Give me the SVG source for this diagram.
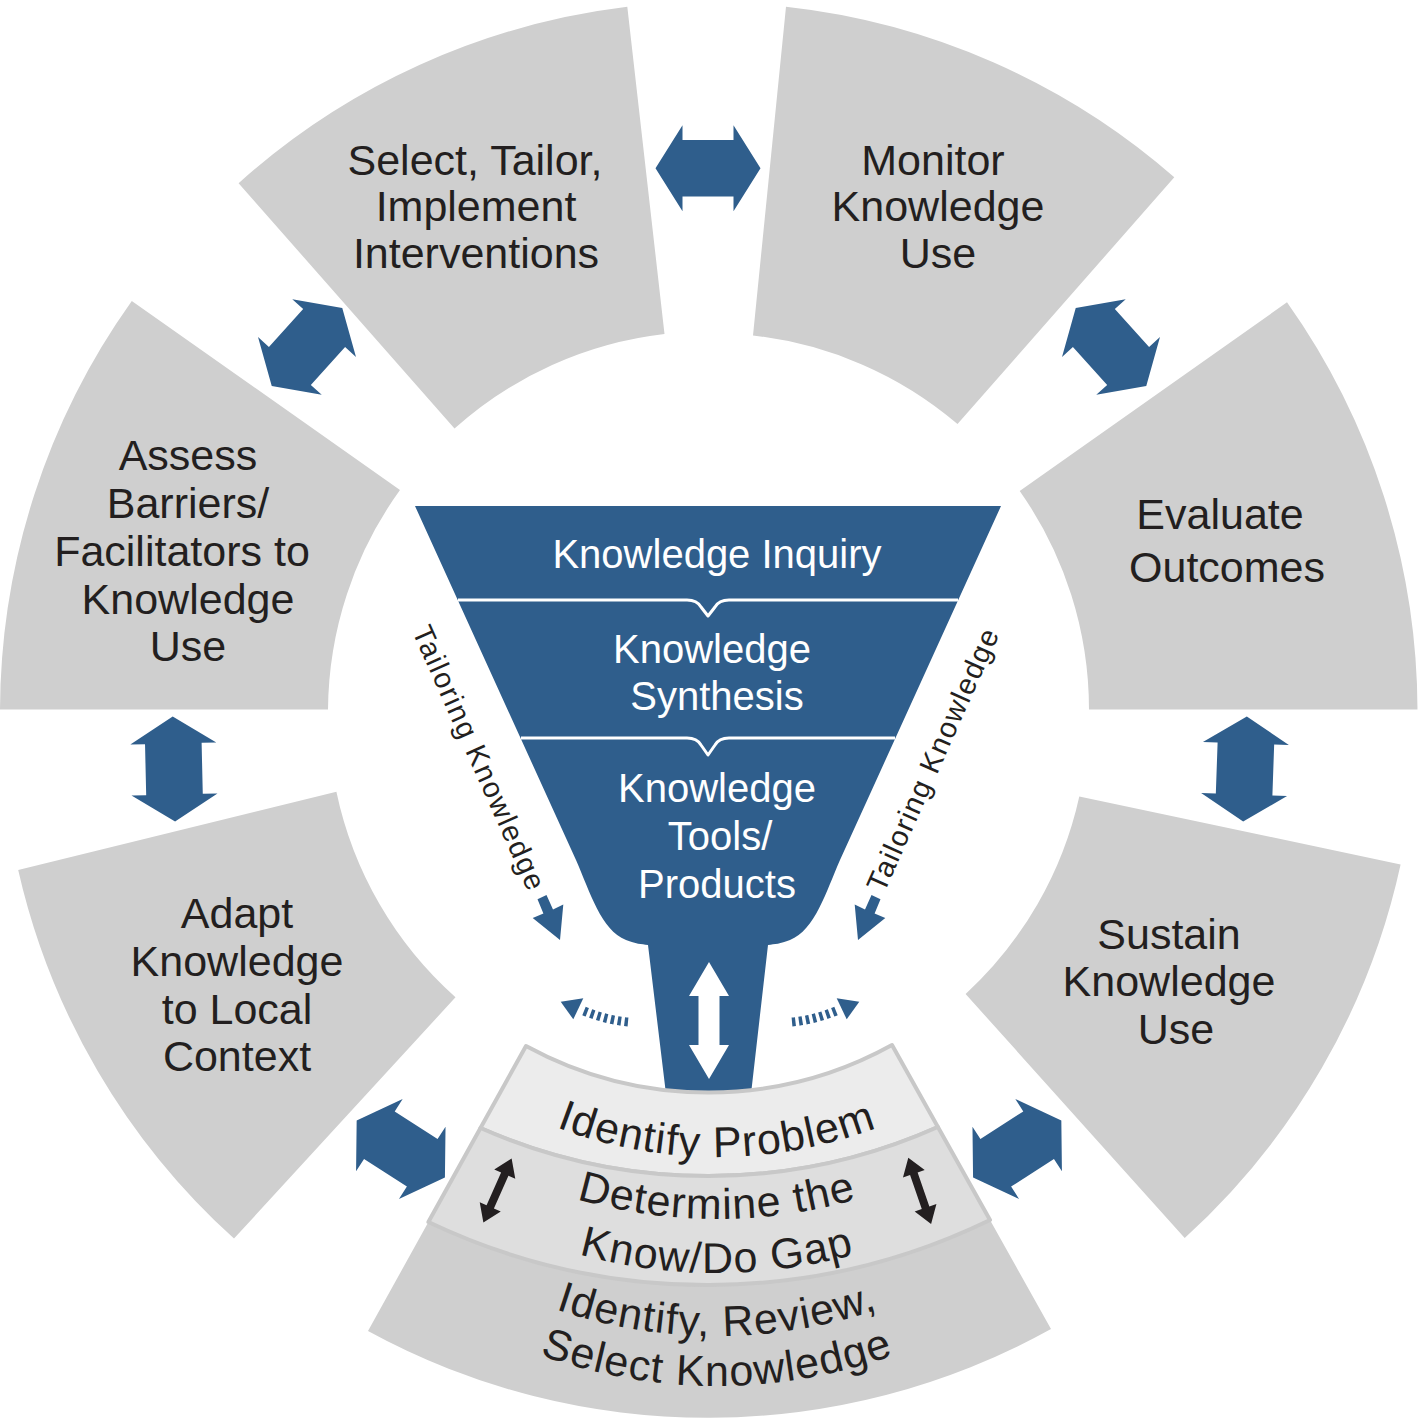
<svg xmlns="http://www.w3.org/2000/svg" width="1424" height="1420" viewBox="0 0 1424 1420">
<defs>
<style>
.seg{fill:#cfcfcf}
.lbl{font-family:"Liberation Sans",Arial,Helvetica,sans-serif;font-size:43px;fill:#231f20;text-anchor:middle}
.bl{letter-spacing:1.1px}
.fl{font-family:"Liberation Sans",Arial,Helvetica,sans-serif;font-size:40px;fill:#ffffff;text-anchor:middle}
.tk{font-family:"Liberation Sans",Arial,Helvetica,sans-serif;font-size:29px;fill:#231f20;text-anchor:middle}
.blue{fill:#2f5e8c}
.band{stroke:#c8c8c8;stroke-width:4;stroke-linejoin:round}
.dots{fill:none;stroke:#2f5e8c;stroke-width:9;stroke-dasharray:3.5 3.5}
.sep{fill:none;stroke:#ffffff;stroke-width:3;stroke-linejoin:round}
</style>
<path id="dbl" d="M-52.5,0 L-25.5,-43 L-25.5,-28.3 L25.5,-28.3 L25.5,-43 L52.5,0 L25.5,43 L25.5,28.3 L-25.5,28.3 L-25.5,43 Z"/>
<path id="sdbl" d="M-35,0 L-18,-11.5 L-18,-4 L18,-4 L18,-11.5 L35,0 L18,11.5 L18,4 L-18,4 L-18,11.5 Z"/>
<path id="tp1" d="M417,1042.4 A450,450 0 0 0 1017,1042.4"/>
<path id="tp2" d="M417,1119 A500,500 0 0 0 1017,1119"/>
<path id="tp3" d="M417,1177.7 A520,520 0 0 0 1017,1177.7"/>
<path id="tp4" d="M417,1236 A500,500 0 0 0 1017,1236"/>
<path id="tp5" d="M417,1290.7 A520,520 0 0 0 1017,1290.7"/>
</defs>
<rect width="1424" height="1420" fill="#ffffff"/>

<g id="select">
<path class="seg" d="M238.6,183.2 A708,708 0 0 1 627.3,6.8 L664.5,334 A380,380 0 0 0 454.5,428.6 Z"/>
<text class="lbl" x="475" y="175">Select, Tailor,</text>
<text class="lbl" x="476" y="221">Implement</text>
<text class="lbl" x="476" y="268">Interventions</text>
</g>
<g id="monitor">
<path class="seg" d="M786,6.8 A708,708 0 0 1 1174.3,177.3 L957.5,424 A380,380 0 0 0 753,335.5 Z"/>
<text class="lbl" x="933" y="175">Monitor</text>
<text class="lbl" x="938" y="221">Knowledge</text>
<text class="lbl" x="938" y="268">Use</text>
</g>
<g id="evaluate">
<path class="seg" d="M1287,302.3 A708,708 0 0 1 1417.5,709.5 L1089,709.5 A380,380 0 0 0 1019.7,490.9 Z"/>
<text class="lbl" x="1220" y="529">Evaluate</text>
<text class="lbl" x="1227" y="582">Outcomes</text>
</g>
<g id="sustain">
<path class="seg" d="M1400.6,864.5 A708,708 0 0 1 1184.7,1238 L965.6,994 A380,380 0 0 0 1079.3,796.4 Z"/>
<text class="lbl" x="1169" y="949">Sustain</text>
<text class="lbl" x="1169" y="996">Knowledge</text>
<text class="lbl" x="1176" y="1044">Use</text>
</g>
<g id="adapt">
<path class="seg" d="M234,1238.6 A708,708 0 0 1 18.2,870 L336.4,791.8 A380,380 0 0 0 455.5,997.3 Z"/>
<text class="lbl" x="237" y="928">Adapt</text>
<text class="lbl" x="237" y="976">Knowledge</text>
<text class="lbl" x="237" y="1024">to Local</text>
<text class="lbl" x="237" y="1071">Context</text>
</g>
<g id="assess">
<path class="seg" d="M0,709.5 A708,708 0 0 1 131.8,301 L400,490 A380,380 0 0 0 328,709.5 Z"/>
<text class="lbl" x="188" y="470">Assess</text>
<text class="lbl" x="188" y="518">Barriers/</text>
<text class="lbl" x="182" y="566">Facilitators to</text>
<text class="lbl" x="188" y="614">Knowledge</text>
<text class="lbl" x="188" y="661">Use</text>
</g>

<g id="funnel">
<path class="blue" d="M415,506 L1001,506 L840,860 C826,892 815,930 790,940 C780,944 775,944 768,945 L751,1094 L666,1094 L648,945 C641,944 636,944 626,940 C601,930 590,892 576,860 Z"/>
<path class="sep" d="M458,600 H687 Q697,600 701,607 L708,616 L715,607 Q719,600 729,600 H958"/>
<path class="sep" d="M521,738 H687 Q697,738 701,745 L708,755 L715,745 Q719,738 729,738 H895"/>
<text class="fl" x="717" y="568">Knowledge Inquiry</text>
<text class="fl" x="712" y="663">Knowledge</text>
<text class="fl" x="717" y="710">Synthesis</text>
<text class="fl" x="717" y="802">Knowledge</text>
<text class="fl" x="720" y="850">Tools/</text>
<text class="fl" x="717" y="898">Products</text>
<path fill="#ffffff" d="M709,962 L729,996 L719.5,996 L719.5,1045 L729,1045 L709,1079 L689,1045 L698.5,1045 L698.5,996 L689,996 Z"/>
</g>

<g id="bottom">
<path class="seg" d="M1051,1329 A708,708 0 0 1 368,1331 L526,1046 A380,380 0 0 0 892,1045 Z"/>
<path class="band" fill="#ececec" d="M526,1046 A380,380 0 0 0 892,1045 L937.9,1127 A563.5,563.5 0 0 1 480.5,1128 Z"/>
<path class="band" fill="#dedede" d="M480.5,1128 A563.5,563.5 0 0 0 937.9,1127 L990,1220 A648,648 0 0 1 428.4,1222 Z"/>
<text class="lbl bl"><textPath href="#tp1" startOffset="50%">Identify Problem</textPath></text>
<text class="lbl bl"><textPath href="#tp2" startOffset="50%">Determine the</textPath></text>
<text class="lbl bl"><textPath href="#tp3" startOffset="50%">Know/Do Gap</textPath></text>
<text class="lbl bl"><textPath href="#tp4" startOffset="50%">Identify, Review,</textPath></text>
<text class="lbl bl"><textPath href="#tp5" startOffset="50%">Select Knowledge</textPath></text>
</g>

<g id="tailoring-left">
<text class="tk" transform="translate(470,761.6) rotate(66)" textLength="286" lengthAdjust="spacing">Tailoring Knowledge</text>
</g>
<g id="tailoring-right">
<text class="tk" transform="translate(941.7,764.1) rotate(-66)" textLength="284" lengthAdjust="spacing">Tailoring Knowledge</text>
</g>

<g id="connectors">
<use href="#dbl" class="blue" transform="translate(708,168.3)"/>
<use href="#dbl" class="blue" transform="translate(307,347) rotate(-47.8)"/>
<use href="#dbl" class="blue" transform="translate(1111,347) rotate(47.8)"/>
<use href="#dbl" class="blue" transform="translate(1245,769) rotate(92)"/>
<use href="#dbl" class="blue" transform="translate(173.9,769) rotate(88.7)"/>
<use href="#dbl" class="blue" transform="translate(400.8,1149) rotate(32.8)"/>
<use href="#dbl" class="blue" transform="translate(1017.2,1149) rotate(-32.8)"/>
<use href="#sdbl" fill="#231f20" transform="translate(497.5,1190.5) rotate(113.8)"/>
<use href="#sdbl" fill="#231f20" transform="translate(919.7,1190.8) rotate(71)"/>
<path class="blue" d="M546.5,894.9 L553,909.5 L563.3,904.5 L560,940 L532.7,918.1 L543.4,913.6 L537.5,899.2 Z"/>
<path class="blue" d="M871.5,894.9 L865,909.5 L854.7,904.5 L858,940 L885.3,918.1 L874.6,913.6 L880.5,899.2 Z"/>
<path class="dots" d="M628,1022 Q606,1020 584,1011"/>
<path class="blue" d="M560.7,1001.7 L583.3,998.3 L573.3,1019.3 Z"/>
<path class="dots" d="M792,1022 Q814,1020 836,1011"/>
<path class="blue" d="M859.3,1001.7 L836.7,998.3 L846.7,1019.3 Z"/>
</g>
</svg>
